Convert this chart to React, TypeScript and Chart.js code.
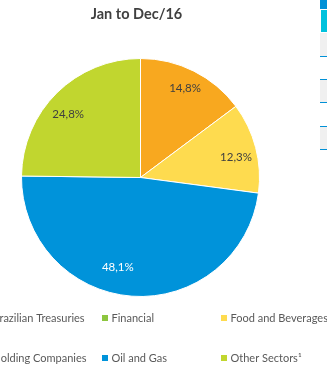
import React, { useEffect, useRef } from "react";
import { Chart, registerables } from "chart.js";

Chart.register(...registerables);

const chartTitle = "Jan to Dec/16";
const categories = [
  "Brazilian Treasuries",
  "Financial",
  "Food and Beverages",
  "Holding Companies",
  "Oil and Gas",
  "Other Sectors¹",
];
const shares = [14.8, 0, 12.3, 0, 48.1, 24.8];
const sliceColors = ["#F8A81F", "#8DC63F", "#FEDB4F", "#1F5F8B", "#0093DA", "#C1D62F"];
const labelColors = ["#404040", "#404040", "#404040", "#404040", "#FFFFFF", "#404040"];

// label placement tweaks (radius fraction, angle shift in degrees)
const labelRadius = [0.835, 0.82, 0.82, 0.82, 0.78, 0.81];
const labelAngleShift = [0, 0, 2.8, 0, 10, -4];

const FONT = "Lato, 'Open Sans', sans-serif";

const fmt = (v: number) => v.toFixed(1).replace(".", ",") + "%";

const overlayPlugin = {
  id: "overlay",
  afterDraw(chart: any) {
    const ctx = chart.ctx as CanvasRenderingContext2D;
    ctx.save();
    // title
    ctx.font = `bold 14.5px ${FONT}`;
    ctx.fillStyle = "#404040";
    ctx.textAlign = "center";
    ctx.textBaseline = "middle";
    ctx.fillText(chartTitle, 136.5, 14);

    // data labels
    const meta = chart.getDatasetMeta(0);
    ctx.font = `11.5px ${FONT}`;
    meta.data.forEach((arc: any, i: number) => {
      const v = shares[i];
      if (!v) return;
      const p = arc.getProps(["x", "y", "startAngle", "endAngle", "outerRadius"], true);
      const mid = (p.startAngle + p.endAngle) / 2 + (labelAngleShift[i] * Math.PI) / 180;
      const r = p.outerRadius * labelRadius[i];
      ctx.fillStyle = labelColors[i];
      ctx.fillText(fmt(v), p.x + Math.cos(mid) * r, p.y + Math.sin(mid) * r);
    });

    // legend (3 columns x 2 rows, first column cut by the frame)
    ctx.font = `11px ${FONT}`;
    ctx.textAlign = "left";
    categories.forEach((name, i) => {
      const col = i % 3;
      const row = Math.floor(i / 3);
      const sx = -17 + col * 119;
      const cy = 318 + row * 40;
      ctx.fillStyle = sliceColors[i];
      ctx.fillRect(sx, cy - 3, 6, 6);
      ctx.fillStyle = "#595959";
      ctx.fillText(name, sx + 9.5, cy);
    });
    ctx.restore();
  },
};

export default function App() {
  const ref = useRef<HTMLCanvasElement | null>(null);
  useEffect(() => {
    if (!ref.current) return;
    const chart = new Chart(ref.current, {
      type: "pie",
      data: {
        labels: categories,
        datasets: [
          {
            data: shares,
            backgroundColor: sliceColors,
            borderColor: "#FFFFFF",
            borderWidth: shares.map((v) => (v ? 1 : 0)),
          },
        ],
      },
      options: {
        animation: false,
        responsive: false,
        events: [],
        layout: { padding: { left: 21, top: 58, right: 67, bottom: 71 } },
        plugins: {
          legend: { display: false },
          title: { display: false },
          tooltip: { enabled: false },
        },
      },
      plugins: [overlayPlugin],
    });
    return () => chart.destroy();
  }, []);

  const tab = (top: number, height: number, color: string, left = 320) => (
    <div style={{ position: "absolute", left, top, width: 327 - left, height, background: color }} />
  );

  return (
    <div style={{ position: "fixed", left: 0, top: 0, width: 327, height: 368, overflow: "hidden", background: "#fff" }}>
      <canvas ref={ref} width={327} height={368} style={{ position: "absolute", left: 0, top: 0, width: 327, height: 368 }} />
      {tab(0, 9, "#0090D6")}
      {tab(10, 22, "#00C2DD", 321)}
      {tab(33, 23, "#F0F0F0")}
      {tab(56, 1, "#0090D6")}
      {tab(79, 1, "#0090D6")}
      {tab(80, 22, "#F0F0F0")}
      {tab(102, 1, "#0090D6")}
      {tab(126, 1, "#0090D6")}
      {tab(127, 22, "#F0F0F0")}
      {tab(149, 1, "#0090D6")}
    </div>
  );
}
